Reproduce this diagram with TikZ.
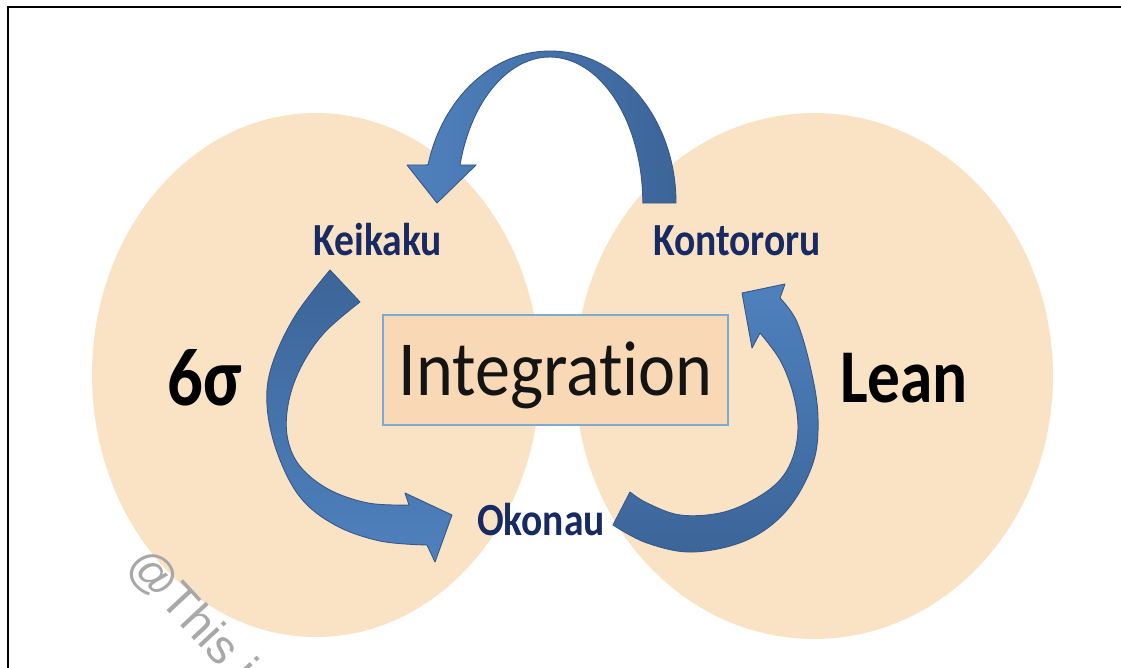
\documentclass[tikz,border=0pt]{standalone}
\usepackage{fontspec}
\usepackage{graphicx}
\setmainfont{Carlito}
\newfontfamily\wmfont{Liberation Sans}
\newfontfamily\intfont[RawFeature=-liga]{Carlito}
\usetikzlibrary{shapes.geometric}
\definecolor{peach}{HTML}{FAE3C4}
\definecolor{boxfill}{HTML}{F9D8B6}
\definecolor{boxline}{HTML}{7BAAD3}
\definecolor{navy}{HTML}{172A63}
\definecolor{bluel}{HTML}{4F81BD}
\definecolor{blued}{HTML}{3C6599}
\definecolor{blueedge}{HTML}{35588A}
\definecolor{wmgray}{HTML}{A8A8A8}
\newcommand\sq[1]{\scalebox{0.86}[1]{#1}}
\tikzset{
 bubble/.style={ellipse, fill=peach, inner sep=0pt},
 stage/.style={text=navy, font=\fontsize{46}{50}\selectfont\bfseries, inner sep=0pt, anchor=base},
 method/.style={text=black, font=\bfseries, inner sep=0pt, anchor=base},
 blockarrow/.style={draw=blueedge, line width=0.9pt, line join=round},
}
\begin{document}
\begin{tikzpicture}[x=1pt,y=-1pt]
\useasboundingbox (0,0) rectangle (1121,668);
\begin{scope}
\clip (0,0) rectangle (1121,668);
% circles
\node[bubble, minimum width=448, minimum height=524] (lc) at (316,375) {};
\node[bubble, minimum width=478, minimum height=526] (rc) at (814,376) {};
% central box
\node[draw=boxline, fill=boxfill, line width=1.2pt, minimum width=345, minimum height=110, inner sep=0pt] (box) at (555.5,370) {};
\node[inner sep=0pt, anchor=base, text=black!92, font=\intfont\fontsize{78}{82}\selectfont] (integ) at (555.5,395)
 {\scalebox{0.9}[1]{Integration}};
% top arrow (Kontororu -> Keikaku)
\path[blockarrow, left color=bluel, right color=blued]
 (676,203) arc[start angle=0, end angle=-165.5, x radius=126, y radius=152]
 -- (407,165) -- (437,203) -- (476,165) -- (460,165)
 arc[start angle=-164.9, end angle=0, x radius=93, y radius=146] -- cycle;
% left arrow (Keikaku -> Okonau)
\path[blockarrow, top color=blued, bottom color=bluel]
 plot[smooth, tension=0.6] coordinates {(330,270) (295,316) (272,365) (267,405) (277,452) (300,497) (335,525) (380,541) (427,545)}
 -- (435,562) -- (452,515) -- (405,493)
 -- plot[smooth, tension=0.6] coordinates {(409,505) (368,503) (328,489) (299,465) (287,435) (289,400) (302,365) (325,332) (360,302)}
 -- cycle;
% right arrow (Okonau -> Kontororu)
\path[blockarrow, top color=bluel, bottom color=blued]
 plot[smooth, tension=0.6] coordinates {(613,525) (647,543) (693,552) (747,540) (787,510) (813,463) (818,417) (811,370) (797,322) (780,298)}
 -- (785,284) -- (742,293) -- (752,348)
 -- plot[smooth, tension=0.6] coordinates {(760,333) (780,360) (793,393) (798,427) (793,457) (779,481) (753,500) (720,513) (680,515) (647,503) (630,492)}
 -- cycle;
% stage labels
\node[stage] (keikaku) at (378,256) {\sq{Keikaku}};
\node[stage] (kontororu) at (737,256) {\sq{Kontororu}};
\node[stage] (okonau) at (541,535) {\sq{Okonau}};
% method labels
\node[method, font=\fontsize{82}{86}\selectfont\bfseries] (sigma) at (205,405) {\sq{6σ}};
\node[method, font=\fontsize{76}{80}\selectfont\bfseries] (lean) at (904,402) {\sq{Lean}};
% watermark
\node[inner sep=0pt, anchor=base west, rotate=-47, text=wmgray, font=\wmfont\fontsize{48}{52}\selectfont] (wm) at (125,566) {@This is};
\end{scope}
% frame
\draw[line width=2pt] (8,668) -- (8,7.5) -- (1121,7.5);
\end{tikzpicture}
\end{document}
